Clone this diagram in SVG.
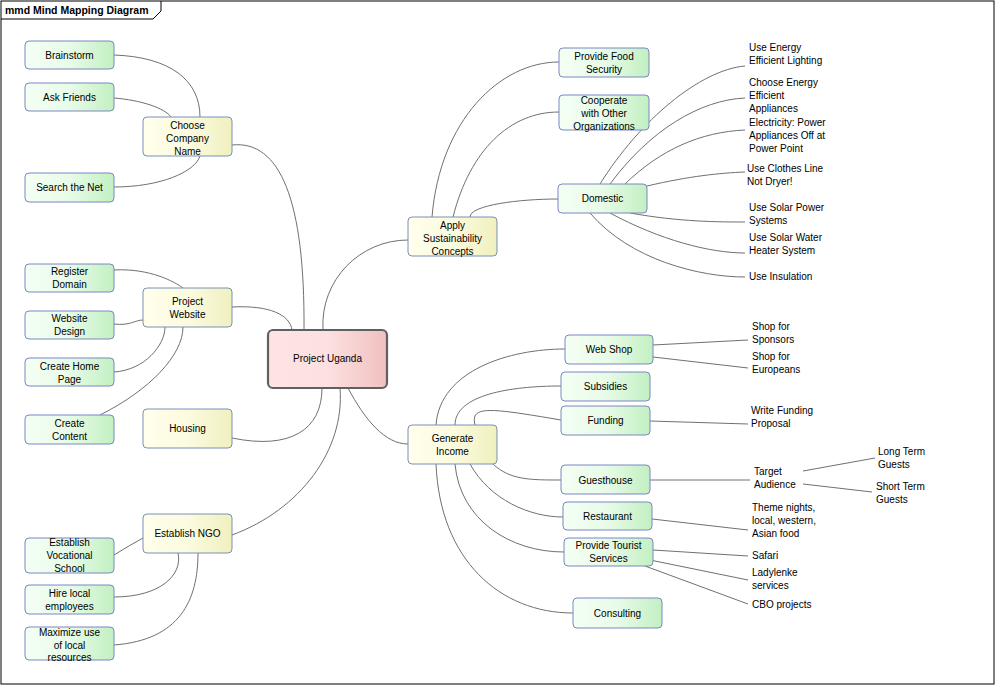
<svg xmlns="http://www.w3.org/2000/svg" width="996" height="686" viewBox="0 0 996 686">
<defs>
<linearGradient id="gg" x1="0" x2="1"><stop offset="0" stop-color="#f4fff4"/><stop offset="0.5" stop-color="#e8fbe8"/><stop offset="1" stop-color="#c2f0c2"/></linearGradient>
<linearGradient id="gy" x1="0" x2="1"><stop offset="0" stop-color="#ffffec"/><stop offset="0.5" stop-color="#fbfbe0"/><stop offset="1" stop-color="#f0f0c0"/></linearGradient>
<linearGradient id="gr" x1="0" x2="1"><stop offset="0" stop-color="#ffe4e4"/><stop offset="0.5" stop-color="#fde0e0"/><stop offset="1" stop-color="#f0c0c0"/></linearGradient>
</defs>
<style>
text{font-family:"Liberation Sans",Arial,sans-serif;font-size:10px;fill:#000}
.n text{text-anchor:middle}
.g rect{fill:url(#gg);stroke:#7b86c4;stroke-width:1}
.y rect{fill:url(#gy);stroke:#7890b8;stroke-width:1}
.c path{fill:none;stroke:#707070;stroke-width:1}
</style>
<rect x="1" y="1" width="993" height="683" fill="#fff" stroke="#000"/>
<path d="M1,19 H153 L161,11 V1" fill="none" stroke="#000"/>
<text x="5" y="14" style="font-weight:bold;font-size:10.5px">mmd Mind Mapping Diagram</text>
<g class="c" id="connectors">
<path d="M114,55 C170,57 200,80 200,117"/>
<path d="M114,98 C140,100 165,108 171,117"/>
<path d="M114,187 C160,187 195,172 200,156"/>
<path d="M232,145 C280,140 305,200 304,330"/>
<path d="M114,270 C150,268 175,282 183,288"/>
<path d="M114,324 C130,326 135,320 143,320"/>
<path d="M114,372 C145,370 165,345 165,327"/>
<path d="M100,415 C150,390 183,355 183,327"/>
<path d="M232,307 C270,305 290,315 292,330"/>
<path d="M232,438 C290,450 322,430 322,388"/>
<path d="M232,535 C300,510 345,450 340,388"/>
<path d="M114,555 Q130,545 143,538"/>
<path d="M114,597 C160,597 183,575 178,553"/>
<path d="M114,645 C180,640 198,600 198,553"/>
<path d="M323,330 C320,280 360,240 408,240"/>
<path d="M432,217 C440,120 500,62 559,62"/>
<path d="M453,217 C470,150 510,112 559,112"/>
<path d="M470,217 C470,205 520,199 558,199"/>
<path d="M600,184 C640,120 700,70 745,66"/>
<path d="M610,184 C650,130 700,100 745,98"/>
<path d="M625,184 C660,150 700,132 745,130"/>
<path d="M647,186 C690,176 720,173 745,172"/>
<path d="M630,213 C680,222 720,222 745,222"/>
<path d="M610,213 C660,240 710,253 745,253"/>
<path d="M590,213 C630,260 700,277 745,277"/>
<path d="M348,388 C365,420 385,444 408,444"/>
<path d="M436,425 C440,370 510,349 565,349"/>
<path d="M455,425 C455,395 510,386 561,386"/>
<path d="M475,425 C470,405 490,408 561,420"/>
<path d="M493,464 C510,480 530,480 561,480"/>
<path d="M470,464 C490,500 530,517 563,517"/>
<path d="M455,464 C460,520 510,552 564,552"/>
<path d="M436,464 C440,560 500,613 573,613"/>
<path d="M653,345 L748,340"/>
<path d="M653,357 L748,368"/>
<path d="M650,421 L748,424"/>
<path d="M650,480 L750,480"/>
<path d="M803,471 L875,458"/>
<path d="M803,484 L872,492"/>
<path d="M652,519 L748,530"/>
<path d="M653,550 L748,556"/>
<path d="M650,560 L748,580"/>
<path d="M645,566 L748,604"/>
</g>
<g class="n g" id="brainstorm"><rect x="25" y="41" width="89" height="28" rx="4"/><text x="69.5" y="59">Brainstorm</text></g>
<g class="n g" id="askfriends"><rect x="25" y="83" width="89" height="28" rx="4"/><text x="69.5" y="101">Ask Friends</text></g>
<g class="n y" id="choose"><rect x="143" y="117" width="89" height="39" rx="4"/><text x="187.5" y="129">Choose</text><text x="187.5" y="142">Company</text><text x="187.5" y="155">Name</text></g>
<g class="n g" id="searchnet"><rect x="25" y="173" width="89" height="29" rx="4"/><text x="69.5" y="191">Search the Net</text></g>
<g class="n g" id="register"><rect x="25" y="264" width="89" height="28" rx="4"/><text x="69.5" y="275">Register</text><text x="69.5" y="288">Domain</text></g>
<g class="n g" id="webdesign"><rect x="25" y="311" width="89" height="28" rx="4"/><text x="69.5" y="322">Website</text><text x="69.5" y="335">Design</text></g>
<g class="n y" id="projectwebsite"><rect x="143" y="288" width="89" height="39" rx="4"/><text x="187.5" y="305">Project</text><text x="187.5" y="318">Website</text></g>
<g class="n g" id="homepage"><rect x="25" y="358" width="89" height="28" rx="4"/><text x="69.5" y="370">Create Home</text><text x="69.5" y="383">Page</text></g>
<g class="n g" id="content"><rect x="25" y="415" width="89" height="29" rx="4"/><text x="69.5" y="427">Create</text><text x="69.5" y="440">Content</text></g>
<g class="n y" id="housing"><rect x="143" y="409" width="89" height="39" rx="4"/><text x="187.5" y="432">Housing</text></g>
<g class="n y" id="ngo"><rect x="143" y="514" width="89" height="39" rx="4"/><text x="187.5" y="537">Establish NGO</text></g>
<g class="n g" id="vocational"><rect x="25" y="538" width="89" height="35" rx="4"/><text x="69.5" y="546">Establish</text><text x="69.5" y="559">Vocational</text><text x="69.5" y="572">School</text></g>
<g class="n g" id="hire"><rect x="25" y="585" width="89" height="29" rx="4"/><text x="69.5" y="597">Hire local</text><text x="69.5" y="610">employees</text></g>
<g class="n g" id="maximize"><rect x="25" y="627" width="89" height="33" rx="4"/><text x="69.5" y="636">Maximize use</text><text x="69.5" y="649">of local</text><text x="69.5" y="661">resources</text></g>
<g class="n" id="uganda"><rect x="268" y="330" width="119" height="58" rx="5" fill="url(#gr)" stroke="#606060" stroke-width="2.2"/><text x="327.5" y="362">Project Uganda</text></g>
<g class="n y" id="apply"><rect x="408" y="217" width="89" height="39" rx="4"/><text x="452.5" y="229">Apply</text><text x="452.5" y="242">Sustainability</text><text x="452.5" y="255">Concepts</text></g>
<g class="n g" id="food"><rect x="559" y="48" width="90" height="29" rx="4"/><text x="604" y="60">Provide Food</text><text x="604" y="73">Security</text></g>
<g class="n g" id="cooperate"><rect x="559" y="95" width="90" height="35" rx="4"/><text x="604" y="104">Cooperate</text><text x="604" y="117">with Other</text><text x="604" y="130">Organizations</text></g>
<g class="n g" id="domestic"><rect x="558" y="184" width="89" height="29" rx="4"/><text x="602.5" y="202">Domestic</text></g>
<g class="n y" id="income"><rect x="408" y="425" width="89" height="39" rx="4"/><text x="452.5" y="442">Generate</text><text x="452.5" y="455">Income</text></g>
<g class="n g" id="webshop"><rect x="565" y="335" width="88" height="29" rx="4"/><text x="609" y="353">Web Shop</text></g>
<g class="n g" id="subsidies"><rect x="561" y="372" width="89" height="29" rx="4"/><text x="605.5" y="390">Subsidies</text></g>
<g class="n g" id="funding"><rect x="561" y="406" width="89" height="29" rx="4"/><text x="605.5" y="424">Funding</text></g>
<g class="n g" id="guesthouse"><rect x="561" y="465" width="89" height="29" rx="4"/><text x="605.5" y="484">Guesthouse</text></g>
<g class="n g" id="restaurant"><rect x="563" y="502" width="89" height="28" rx="4"/><text x="607.5" y="520">Restaurant</text></g>
<g class="n g" id="tourist"><rect x="564" y="538" width="89" height="28" rx="4"/><text x="608.5" y="549">Provide Tourist</text><text x="608.5" y="562">Services</text></g>
<g class="n g" id="consulting"><rect x="573" y="598" width="89" height="30" rx="4"/><text x="617.5" y="617">Consulting</text></g>
<g id="leaves">
<text x="749" y="51">Use Energy</text><text x="749" y="64">Efficient Lighting</text>
<text x="749" y="86">Choose Energy</text><text x="749" y="99">Efficient</text><text x="749" y="112">Appliances</text>
<text x="749" y="126">Electricity: Power</text><text x="749" y="139">Appliances Off at</text><text x="749" y="152">Power Point</text>
<text x="747" y="172">Use Clothes Line</text><text x="747" y="185">Not Dryer!</text>
<text x="749" y="211">Use Solar Power</text><text x="749" y="224">Systems</text>
<text x="749" y="241">Use Solar Water</text><text x="749" y="254">Heater System</text>
<text x="749" y="280">Use Insulation</text>
<text x="752" y="330">Shop for</text><text x="752" y="343">Sponsors</text>
<text x="752" y="360">Shop for</text><text x="752" y="373">Europeans</text>
<text x="751" y="414">Write Funding</text><text x="751" y="427">Proposal</text>
<text x="754" y="475">Target</text><text x="754" y="488">Audience</text>
<text x="878" y="455">Long Term</text><text x="878" y="468">Guests</text>
<text x="876" y="490">Short Term</text><text x="876" y="503">Guests</text>
<text x="752" y="511">Theme nights,</text><text x="752" y="524">local, western,</text><text x="752" y="537">Asian food</text>
<text x="752" y="559">Safari</text>
<text x="752" y="576">Ladylenke</text><text x="752" y="589">services</text>
<text x="752" y="608">CBO projects</text>
</g>
</svg>
